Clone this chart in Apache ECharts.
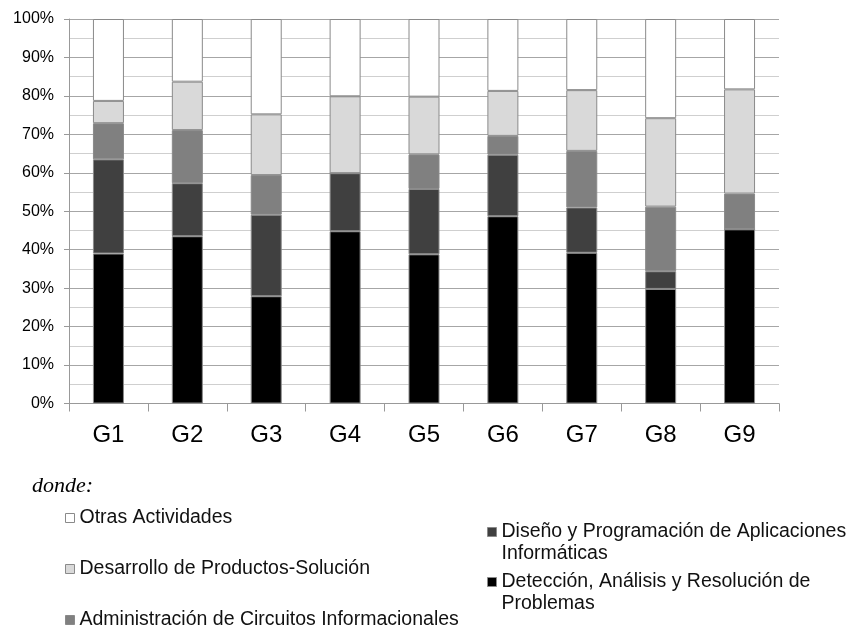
<!DOCTYPE html>
<html>
<head>
<meta charset="utf-8">
<title>Distribución de actividades por grupo</title>
<script src="https://cdn.jsdelivr.net/npm/echarts@6/dist/echarts.min.js"></script>
<style>
  html, body { margin: 0; padding: 0; background: #fff; }
  #chart { width: 855px; height: 630px; }
</style>
</head>
<body>
<div id="chart"></div>
<script>
// Groups on the x axis
const categories = ['G1', 'G2', 'G3', 'G4', 'G5', 'G6', 'G7', 'G8', 'G9'];

// Share of each activity per group (percent, stacked bottom to top)
const deteccion      = [39.0, 43.5, 27.9, 44.8, 38.8, 48.7, 39.2, 29.8, 45.3];
const diseno         = [24.5, 13.8, 21.2, 15.1, 17.0, 16.0, 11.8, 4.6, 0];
const administracion = [9.4, 13.8, 10.3, 0, 9.0, 4.9, 14.7, 16.8, 9.3];
const desarrollo     = [5.8, 12.6, 15.8, 20.0, 15.0, 11.7, 15.8, 23.0, 27.1];
const otras          = [21.3, 16.3, 24.8, 20.1, 20.2, 18.7, 18.5, 25.8, 18.3];

// Series names
const nDeteccion = 'Detección, Análisis y Resolución de Problemas';
const nDiseno = 'Diseño y Programación de Aplicaciones Informáticas';
const nAdmin = 'Administración de Circuitos Informacionales';
const nDesarrollo = 'Desarrollo de Productos-Solución';
const nOtras = 'Otras Actividades';

// Wrapped legend texts for the right column
const wrapped = {};
wrapped[nDiseno] = 'Diseño y Programación de Aplicaciones\nInformáticas';
wrapped[nDeteccion] = 'Detección, Análisis y Resolución de\nProblemas';

const sans = "'Liberation Sans', Arial, sans-serif";

const chart = echarts.init(document.getElementById('chart'), null, { renderer: 'canvas' });

function barSeries(name, data, color) {
  return {
    name: name,
    type: 'bar',
    stack: 'total',
    data: data,
    barWidth: 31,
    itemStyle: { color: color, borderColor: '#8a8a8a', borderWidth: 1 },
    emphasis: { disabled: true }
  };
}

function legendBase() {
  return {
    orient: 'vertical',
    icon: 'rect',
    itemWidth: 9,
    itemHeight: 9,
    padding: 0,
    selectedMode: false,
    itemStyle: { borderColor: '#8a8a8a', borderWidth: 1 }
  };
}

// Single-line entry of the left column
function leftLegend(name, top) {
  return Object.assign(legendBase(), {
    left: 65,
    top: top,
    data: [name],
    textStyle: { fontFamily: sans, fontSize: 19.5, color: '#111', lineHeight: 21 }
  });
}

// Two-line entry of the right column; a leading empty line keeps
// the marker level with the first text line
function rightLegend(name, top) {
  return Object.assign(legendBase(), {
    left: 487,
    top: top,
    data: [name],
    formatter: function (n) { return '\n' + wrapped[n]; },
    textStyle: { fontFamily: sans, fontSize: 19.5, color: '#111', lineHeight: 22 }
  });
}

const option = {
  animation: false,
  backgroundColor: '#fff',
  title: {
    text: 'donde:',
    left: 32,
    top: 475,
    padding: 0,
    textStyle: {
      fontFamily: "'Liberation Serif', 'Times New Roman', serif",
      fontStyle: 'italic',
      fontWeight: 'normal',
      fontSize: 22,
      color: '#000'
    }
  },
  grid: { left: 69, top: 19, width: 710, height: 384.5, containLabel: false },
  legend: [
    leftLegend(nOtras, 507.5),
    leftLegend(nDesarrollo, 558.5),
    leftLegend(nAdmin, 609.5),
    rightLegend(nDiseno, 499),
    rightLegend(nDeteccion, 549)
  ],
  xAxis: {
    type: 'category',
    data: categories,
    axisLine: { lineStyle: { color: '#999', width: 1 } },
    axisTick: { show: true, length: 8, lineStyle: { color: '#999' } },
    axisLabel: { fontFamily: sans, fontSize: 24, color: '#000', margin: 20 },
    splitLine: { show: false }
  },
  yAxis: {
    type: 'value',
    min: 0,
    max: 100,
    interval: 10,
    axisLine: { show: true, lineStyle: { color: '#999', width: 1 } },
    axisTick: { show: true, length: 5, lineStyle: { color: '#999' } },
    axisLabel: { formatter: '{value}%', fontFamily: sans, fontSize: 16, color: '#000', margin: 15 },
    splitLine: { show: true, lineStyle: { color: '#a6a6a6', width: 1 } },
    minorTick: { show: false, splitNumber: 2 },
    minorSplitLine: { show: true, lineStyle: { color: '#cfcfcf', width: 1 } }
  },
  series: [
    barSeries(nDeteccion, deteccion, '#000000'),
    barSeries(nDiseno, diseno, '#404040'),
    barSeries(nAdmin, administracion, '#808080'),
    barSeries(nDesarrollo, desarrollo, '#d9d9d9'),
    barSeries(nOtras, otras, '#ffffff')
  ]
};

chart.setOption(option);
</script>
</body>
</html>
